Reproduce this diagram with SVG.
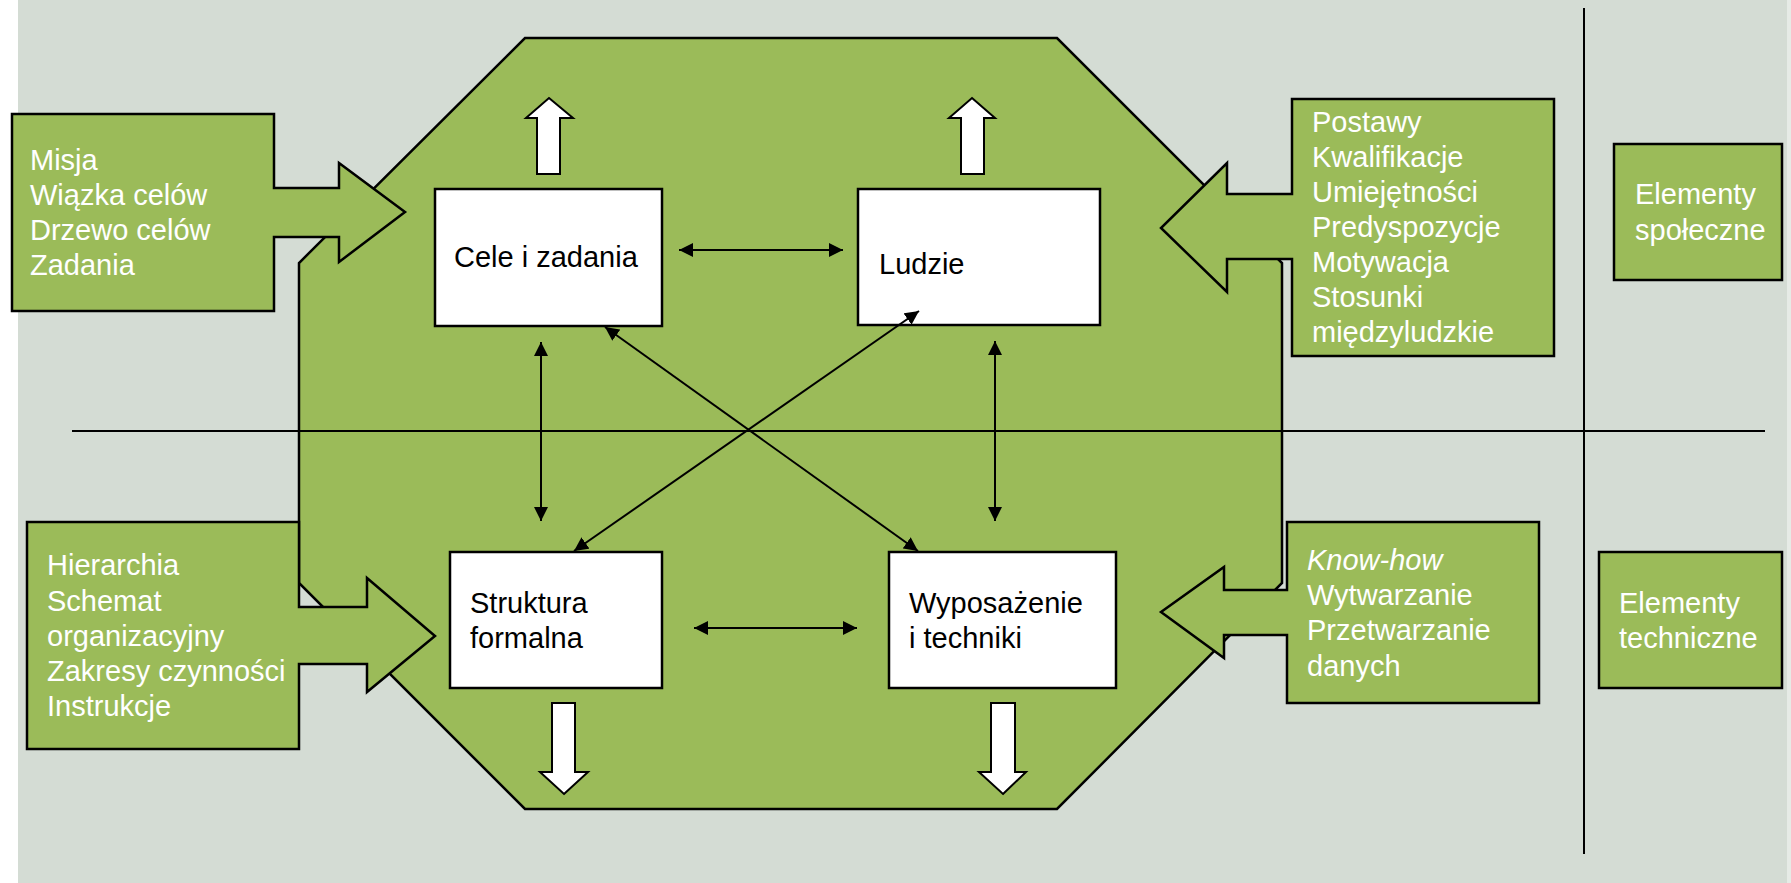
<svg xmlns="http://www.w3.org/2000/svg" width="1791" height="883" viewBox="0 0 1791 883">
<defs>
<style>
.bg{fill:#d4dcd4}
.oct{fill:#9bbb59;stroke:#000;stroke-width:2.5}
.call{fill:#9bbb59;stroke:#000;stroke-width:2.5}
.box{fill:#fff;stroke:#000;stroke-width:2.5}
.wa{fill:#fff;stroke:#000;stroke-width:2}
.wt{font-family:"Liberation Sans",Arial,sans-serif;font-size:29px;fill:#fff}
.bt{font-family:"Liberation Sans",Arial,sans-serif;font-size:29px;fill:#000}
.ln{stroke:#000;stroke-width:2;fill:none}
.con{stroke:#000;stroke-width:2;fill:none;marker-start:url(#ah);marker-end:url(#ah)}
</style>
<marker id="ah" viewBox="0 0 14 14" refX="14" refY="7" markerWidth="14" markerHeight="14" markerUnits="userSpaceOnUse" orient="auto-start-reverse">
<path d="M0,0 L14,7 L0,14 Z" fill="#000"/>
</marker>
</defs>
<rect x="0" y="0" width="1791" height="883" fill="#fff"/>
<rect class="bg" x="18" y="0" width="1769" height="883"/>
<rect x="1787" y="0" width="4" height="883" fill="#e6ebe6"/>

<g id="octagon">
<polygon class="oct" points="525,38 1057,38 1282,263 1282,583 1057,809 525,809 299,583 299,263"/>
</g>

<g id="dividers">
<line class="ln" x1="72" y1="431" x2="1765" y2="431"/>
<line class="ln" x1="1584" y1="8" x2="1584" y2="854"/>
</g>

<g id="misja">
<polygon class="call" points="12,114 274,114 274,188 339,188 339,163 405,212 339,262 339,237 274,237 274,311 12,311"/>
<text class="wt" x="30" y="170">Misja</text>
<text class="wt" x="30" y="205">Wiązka celów</text>
<text class="wt" x="30" y="240">Drzewo celów</text>
<text class="wt" x="30" y="275">Zadania</text>
</g>

<g id="hierarchia">
<polygon class="call" points="27,522 299,522 299,607 367,607 367,578 435,636 367,692 367,664 299,664 299,749 27,749"/>
<text class="wt" x="47" y="575">Hierarchia</text>
<text class="wt" x="47" y="611">Schemat</text>
<text class="wt" x="47" y="646">organizacyjny</text>
<text class="wt" x="47" y="681">Zakresy czynności</text>
<text class="wt" x="47" y="716">Instrukcje</text>
</g>

<g id="postawy">
<polygon class="call" points="1554,99 1292,99 1292,194 1227,194 1227,163 1161,228 1227,292 1227,259 1292,259 1292,356 1554,356"/>
<text class="wt" x="1312" y="132">Postawy</text>
<text class="wt" x="1312" y="167">Kwalifikacje</text>
<text class="wt" x="1312" y="202">Umiejętności</text>
<text class="wt" x="1312" y="237">Predyspozycje</text>
<text class="wt" x="1312" y="272">Motywacja</text>
<text class="wt" x="1312" y="307">Stosunki</text>
<text class="wt" x="1312" y="342">międzyludzkie</text>
</g>

<g id="knowhow">
<polygon class="call" points="1539,522 1287,522 1287,590 1224,590 1224,567 1161,612 1224,658 1224,635 1287,635 1287,703 1539,703"/>
<text class="wt" x="1307" y="570" font-style="italic">Know-how</text>
<text class="wt" x="1307" y="605">Wytwarzanie</text>
<text class="wt" x="1307" y="640">Przetwarzanie</text>
<text class="wt" x="1307" y="676">danych</text>
</g>

<g id="elementy-spoleczne">
<rect class="call" x="1614" y="144" width="168" height="136"/>
<text class="wt" x="1635" y="204">Elementy</text>
<text class="wt" x="1635" y="240">społeczne</text>
</g>

<g id="elementy-techniczne">
<rect class="call" x="1599" y="552" width="183" height="136"/>
<text class="wt" x="1619" y="613">Elementy</text>
<text class="wt" x="1619" y="648">techniczne</text>
</g>

<g id="cele">
<rect class="box" x="435" y="189" width="227" height="137"/>
<text class="bt" x="454" y="267">Cele i zadania</text>
</g>

<g id="ludzie">
<rect class="box" x="858" y="189" width="242" height="136"/>
<text class="bt" x="879" y="274">Ludzie</text>
</g>

<g id="struktura">
<rect class="box" x="450" y="552" width="212" height="136"/>
<text class="bt" x="470" y="613">Struktura</text>
<text class="bt" x="470" y="648">formalna</text>
</g>

<g id="wyposazenie">
<rect class="box" x="889" y="552" width="227" height="136"/>
<text class="bt" x="909" y="613">Wyposażenie</text>
<text class="bt" x="909" y="648">i techniki</text>
</g>

<g id="white-arrows">
<polygon class="wa" points="549,98 573,118 560,118 560,174 537,174 537,118 526,118"/>
<polygon class="wa" points="972,98 995,118 984,118 984,174 961,174 961,118 949,118"/>
<polygon class="wa" points="564,794 588,772 575,772 575,703 552,703 552,772 540,772"/>
<polygon class="wa" points="1003,794 1026,772 1015,772 1015,703 991,703 991,772 979,772"/>
</g>

<g id="connectors">
<line class="con" x1="679" y1="250" x2="843" y2="250"/>
<line class="con" x1="694" y1="628" x2="857" y2="628"/>
<line class="con" x1="541" y1="342" x2="541" y2="521"/>
<line class="con" x1="995" y1="341" x2="995" y2="521"/>
<line class="con" x1="605" y1="327" x2="918" y2="551"/>
<line class="con" x1="574" y1="551" x2="919" y2="311"/>
</g>
</svg>
